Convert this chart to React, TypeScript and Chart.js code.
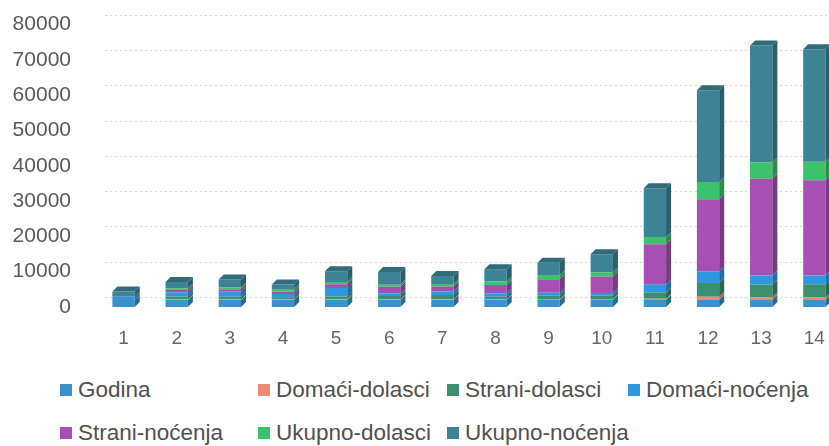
import React, { useEffect, useRef } from 'react';
import { Chart, registerables } from 'chart.js';

Chart.register(...registerables);

const FONT = '"Liberation Sans", Arial, sans-serif';

const categories = ['1', '2', '3', '4', '5', '6', '7', '8', '9', '10', '11', '12', '13', '14'];

const godina = [2000, 2001, 2002, 2003, 2004, 2005, 2006, 2007, 2008, 2009, 2010, 2011, 2012, 2013];
const domaciDolasci = [0, 100, 100, 150, 200, 200, 200, 200, 250, 250, 300, 900, 740, 700];
const straniDolasci = [0, 850, 800, 600, 750, 900, 1200, 700, 900, 900, 1700, 3900, 3600, 3700];
const domaciNocenja = [900, 1200, 1400, 900, 2400, 800, 1000, 1000, 900, 800, 2300, 3300, 2560, 2500];
const straniNocenja = [0, 650, 750, 700, 1100, 1800, 1400, 2360, 3800, 4700, 11500, 20400, 27400, 27000];
const ukupnoDolasci = [0, 500, 450, 750, 600, 600, 700, 940, 1200, 1150, 2000, 4900, 4700, 5200];
const ukupnoNocenja = [1500, 1800, 2300, 1300, 3100, 3600, 2300, 3500, 3500, 5100, 13800, 26000, 33100, 31900];

const yTicks = [0, 10000, 20000, 30000, 40000, 50000, 60000, 70000, 80000];

const seriesNames = ['Godina', 'Domaći-dolasci', 'Strani-dolasci', 'Domaći-noćenja', 'Strani-noćenja', 'Ukupno-dolasci', 'Ukupno-noćenja'];
const seriesValues = [godina, domaciDolasci, straniDolasci, domaciNocenja, straniNocenja, ukupnoDolasci, ukupnoNocenja];
const seriesColors = ['#3a92c8', '#ef8a72', '#3c9070', '#2f97e2', '#a650b4', '#3cc26a', '#3d8295'];

function shade(hex: string, f: number) {
  const n = parseInt(hex.slice(1), 16);
  const r = Math.round(((n >> 16) & 255) * f);
  const g = Math.round(((n >> 8) & 255) * f);
  const b = Math.round((n & 255) * f);
  return `rgb(${r},${g},${b})`;
}

const DX = 5;
const DY = 5;

const gridPlugin = {
  id: 'backWallGrid',
  beforeDatasetsDraw(chart: any) {
    const ctx = chart.ctx;
    const ys = chart.scales.y;
    const area = chart.chartArea;
    ctx.save();
    ctx.strokeStyle = '#d6d6d6';
    ctx.lineWidth = 1;
    ctx.setLineDash([2, 3]);
    ys.ticks.forEach((t: any) => {
      const yy = Math.round(ys.getPixelForValue(t.value) - 10) + 0.5;
      ctx.beginPath();
      ctx.moveTo(area.left + 8, yy);
      ctx.lineTo(chart.width, yy);
      ctx.stroke();
    });
    ctx.restore();
  },
};

const depthPlugin = {
  id: 'depth3d',
  afterDatasetsDraw(chart: any) {
    const ctx = chart.ctx;
    const nDs = chart.data.datasets.length;
    ctx.save();
    for (let di = 0; di < nDs; di++) {
      const meta = chart.getDatasetMeta(di);
      const col = shade(seriesColors[di], 0.72);
      meta.data.forEach((bar: any) => {
        const p = bar.getProps(['x', 'y', 'base', 'width'], true);
        if (Math.abs(p.base - p.y) < 0.5) return;
        const r = p.x + p.width / 2;
        ctx.fillStyle = col;
        ctx.beginPath();
        ctx.moveTo(r, p.y);
        ctx.lineTo(r + DX, p.y - DY);
        ctx.lineTo(r + DX, p.base - DY);
        ctx.lineTo(r, p.base);
        ctx.closePath();
        ctx.fill();
      });
    }
    const nCat = chart.data.labels.length;
    for (let i = 0; i < nCat; i++) {
      let top = -1;
      for (let di = nDs - 1; di >= 0; di--) {
        if (chart.data.datasets[di].data[i] > 0) { top = di; break; }
      }
      if (top < 0) continue;
      const bar = chart.getDatasetMeta(top).data[i];
      const p = bar.getProps(['x', 'y', 'base', 'width'], true);
      const l = p.x - p.width / 2;
      const r = p.x + p.width / 2;
      ctx.fillStyle = shade(seriesColors[top], 0.82);
      ctx.beginPath();
      ctx.moveTo(l, p.y);
      ctx.lineTo(l + DX, p.y - DY);
      ctx.lineTo(r + DX, p.y - DY);
      ctx.lineTo(r, p.y);
      ctx.closePath();
      ctx.fill();
    }
    ctx.restore();
  },
};

const legendCols = [60, 258, 447, 628];
const legendRows = [390, 433];

export default function App() {
  const ref = useRef<HTMLCanvasElement | null>(null);

  useEffect(() => {
    if (!ref.current) return;
    const chart = new Chart(ref.current, {
      type: 'bar',
      data: {
        labels: categories,
        datasets: seriesNames.map((name, i) => ({
          label: name,
          data: seriesValues[i],
          backgroundColor: seriesColors[i],
          borderWidth: 0,
          categoryPercentage: 1,
          barPercentage: 0.42,
        })),
      },
      options: {
        responsive: false,
        animation: false,
        devicePixelRatio: 1,
        layout: { padding: { top: 13, right: 3, bottom: 0, left: 0 } },
        plugins: {
          legend: { display: false },
          tooltip: { enabled: false },
        },
        scales: {
          x: {
            stacked: true,
            grid: { display: false, drawTicks: false },
            border: { display: false },
            ticks: {
              padding: 20,
              color: '#666666',
              maxRotation: 0,
              autoSkip: false,
              font: { size: 19, family: FONT },
            },
            afterFit: (s: any) => { s.height = 60; },
          },
          y: {
            stacked: true,
            min: 0,
            max: 80000,
            grid: { display: false, drawTicks: false },
            border: { display: false },
            afterBuildTicks: (s: any) => { s.ticks = yTicks.map((v) => ({ value: v })); },
            ticks: {
              padding: 26,
              color: '#595959',
              font: { size: 21, family: FONT },
              callback: (v: any) => String(v),
            },
            afterFit: (s: any) => { s.width = 97; },
          },
        },
      } as any,
      plugins: [gridPlugin, depthPlugin],
    });
    return () => chart.destroy();
  }, []);

  return (
    <div style={{ position: 'fixed', left: 0, top: 0, width: 829, height: 446, overflow: 'hidden', background: '#ffffff' }}>
      <canvas ref={ref} width={845} height={381} style={{ position: 'absolute', left: 0, top: -14 }} />
      {seriesNames.map((name, i) => {
        const row = i < 4 ? 0 : 1;
        const col = i < 4 ? i : i - 4;
        return (
          <div
            key={name}
            style={{
              position: 'absolute',
              left: legendCols[col],
              top: legendRows[row] - 15,
              height: 30,
              display: 'flex',
              alignItems: 'center',
              whiteSpace: 'nowrap',
              fontFamily: FONT,
              fontSize: 22.5,
              color: '#505050',
            }}
          >
            <span style={{ display: 'inline-block', width: 12, height: 12, background: seriesColors[i], marginRight: 6 }} />
            <span>{name}</span>
          </div>
        );
      })}
    </div>
  );
}
